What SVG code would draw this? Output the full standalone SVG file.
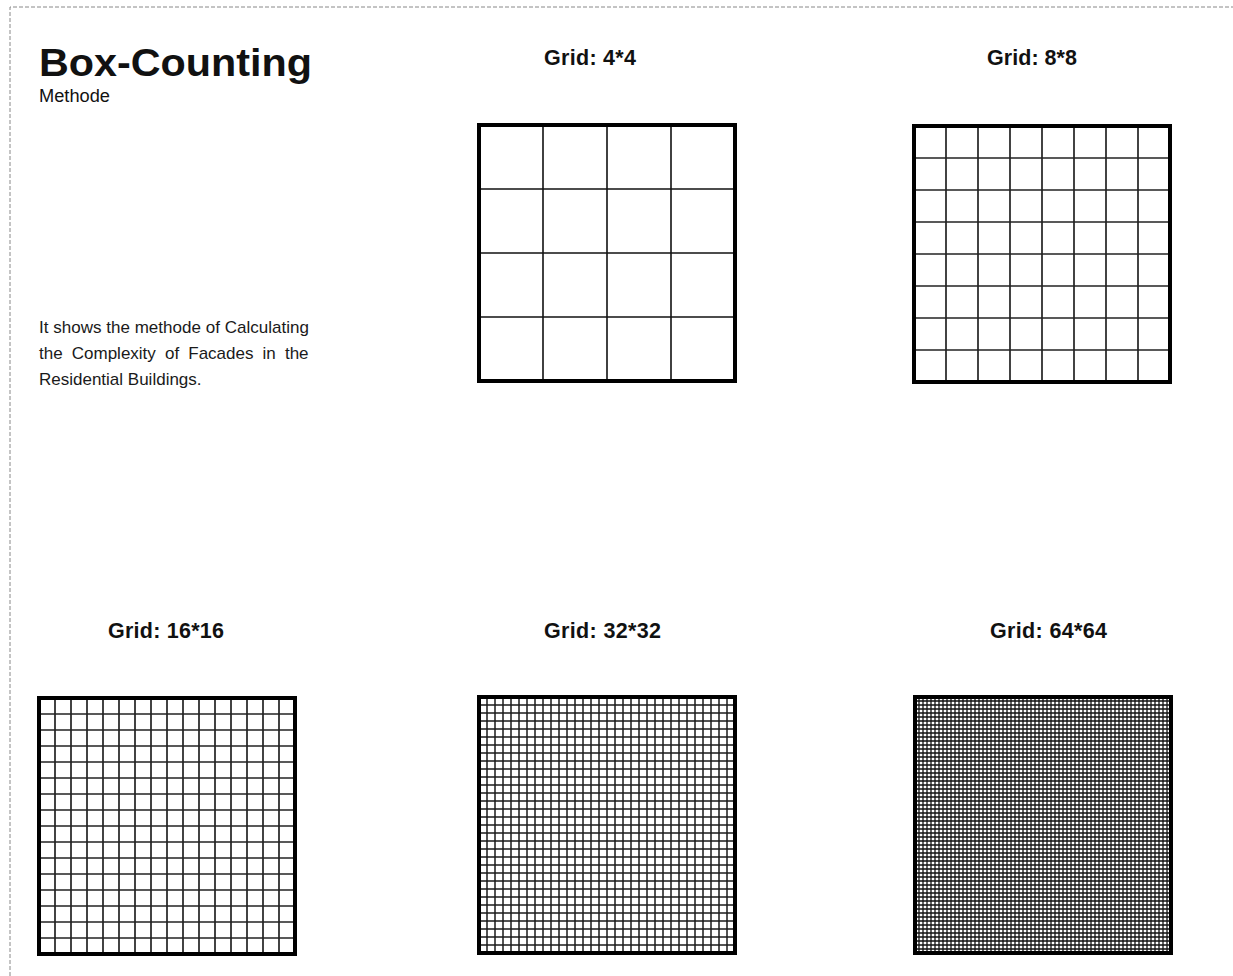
<svg xmlns="http://www.w3.org/2000/svg" width="1233" height="976" viewBox="0 0 1233 976">
<style>
.t{font-family:"Liberation Sans",Arial,sans-serif;fill:#111}
.lab{font-size:21.5px;font-weight:bold}
.body{font-size:17px;fill:#1a1a1a}
.frame{fill:none;stroke:#000;stroke-width:4}
</style>
<defs>
<pattern id="p4" x="479" y="125" width="64" height="64" patternUnits="userSpaceOnUse"><path d="M0 0V64M64 0V64M0 0H64M0 64H64" stroke="#111" stroke-width="1.6"/></pattern>
<pattern id="p8" x="914" y="126" width="32" height="32" patternUnits="userSpaceOnUse"><path d="M0 0V32M32 0V32M0 0H32M0 32H32" stroke="#222" stroke-width="1.7"/></pattern>
<pattern id="p16" x="39" y="698" width="16" height="16" patternUnits="userSpaceOnUse"><path d="M0 0V16M16 0V16M0 0H16M0 16H16" stroke="#222" stroke-width="1.7"/></pattern>
<pattern id="p32" x="479" y="697" width="8" height="8" patternUnits="userSpaceOnUse"><path d="M0 0V8M8 0V8M0 0H8M0 8H8" stroke="#1a1a1a" stroke-width="1.5"/></pattern>
<pattern id="p64" x="915" y="697" width="4" height="4" patternUnits="userSpaceOnUse"><path d="M0 0V4M4 0V4M0 0H4M0 4H4" stroke="#111" stroke-width="1.3"/></pattern>
</defs>
<rect width="1233" height="976" fill="#fff"/>
<path d="M10 976V7H1233" fill="none" stroke="#888" stroke-width="1" stroke-dasharray="4 2"/>

<g id="title">
<text class="t" x="39" y="76" font-size="38" font-weight="bold" textLength="273" lengthAdjust="spacingAndGlyphs">Box-Counting</text>
<text class="t" x="39" y="102" font-size="17.5" textLength="71" lengthAdjust="spacingAndGlyphs">Methode</text>
</g>

<g id="description">
<text class="t body" x="39" y="333" textLength="270">It shows the methode of Calculating</text>
<text class="t body" x="39" y="359" word-spacing="4.4">the Complexity of Facades in the</text>
<text class="t body" x="39" y="385">Residential Buildings.</text>
</g>

<g id="grid4">
<text class="t lab" x="544" y="65" textLength="92">Grid: 4*4</text>
<rect x="479" y="125" width="256" height="256" fill="url(#p4)"/>
<rect class="frame" x="479" y="125" width="256" height="256"/>
</g>

<g id="grid8">
<text class="t lab" x="987" y="65" textLength="90">Grid: 8*8</text>
<rect x="914" y="126" width="256" height="256" fill="url(#p8)"/>
<rect class="frame" x="914" y="126" width="256" height="256"/>
</g>

<g id="grid16">
<text class="t lab" x="108" y="638" textLength="116">Grid: 16*16</text>
<rect x="39" y="698" width="256" height="256" fill="url(#p16)"/>
<rect class="frame" x="39" y="698" width="256" height="256"/>
</g>

<g id="grid32">
<text class="t lab" x="544" y="638" textLength="117">Grid: 32*32</text>
<rect x="479" y="697" width="256" height="256" fill="url(#p32)"/>
<rect class="frame" x="479" y="697" width="256" height="256"/>
</g>

<g id="grid64">
<text class="t lab" x="990" y="638" textLength="117">Grid: 64*64</text>
<rect x="915" y="697" width="256" height="256" fill="url(#p64)"/>
<rect class="frame" x="915" y="697" width="256" height="256"/>
</g>
<g id="connectors"/>
</svg>
